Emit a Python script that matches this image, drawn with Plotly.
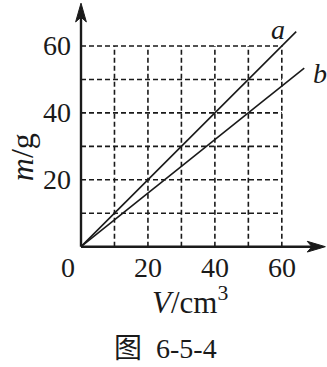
import plotly.graph_objects as go

# ---- data ----
grid_v = [10, 20, 30, 40, 50, 60]
grid_m = [10, 20, 30, 40, 50, 60]
tick_v = [20, 40, 60]
tick_m = [20, 40, 60]
line_a_v = [0, 64.3]
line_a_m = [0, 64.3]
line_b_v = [0, 66.7]
line_b_m = [0, 53.36]

SERIF = '"Liberation Serif", "Times New Roman", serif'
INK = "#1a1a1a"

fig = go.Figure()

# dashed grid (limited to the 0..60 square)
gx, gy = [], []
for v in grid_v:
    gx += [v, v, None]
    gy += [0, max(grid_m), None]
for m in grid_m:
    gx += [0, max(grid_v), None]
    gy += [m, m, None]
fig.add_trace(go.Scatter(x=gx, y=gy, mode="lines",
                         line=dict(color=INK, width=1.6, dash="5px,3px"),
                         hoverinfo="skip", showlegend=False))

# lines a and b
fig.add_trace(go.Scatter(x=line_a_v, y=line_a_m, mode="lines",
                         line=dict(color=INK, width=1.6), showlegend=False))
fig.add_trace(go.Scatter(x=line_b_v, y=line_b_m, mode="lines",
                         line=dict(color=INK, width=1.6), showlegend=False))

# axes + filled arrowheads (decoration, data coordinates)
X_TIP, X_BASE, X_NOTCH, HW = 73.0, 67.6, 69.0, 1.6
Y_TIP, Y_BASE, Y_NOTCH = 72.8, 67.2, 68.6
shapes = [
    dict(type="line", x0=0, y0=0, x1=X_NOTCH, y1=0, xref="x", yref="y",
         line=dict(color=INK, width=2.4)),
    dict(type="line", x0=0, y0=0, x1=0, y1=Y_NOTCH, xref="x", yref="y",
         line=dict(color=INK, width=2.4)),
    dict(type="path", xref="x", yref="y", fillcolor=INK, line=dict(color=INK, width=1),
         path=f"M{X_TIP},0 L{X_BASE},{HW} L{X_NOTCH},0 L{X_BASE},{-HW} Z"),
    dict(type="path", xref="x", yref="y", fillcolor=INK, line=dict(color=INK, width=1),
         path=f"M0,{Y_TIP} L{HW},{Y_BASE} L0,{Y_NOTCH} L{-HW},{Y_BASE} Z"),
]

ann = []
tickfont = dict(family=SERIF, size=28, color=INK)
for m in tick_m:
    ann.append(dict(x=-2.4, y=m, text=str(m), xanchor="right", yanchor="middle",
                    showarrow=False, font=tickfont))
for v in tick_v:
    ann.append(dict(x=v, y=-6.1, text=str(v), xanchor="center", yanchor="middle",
                    showarrow=False, font=tickfont))
ann.append(dict(x=-3.9, y=-6.1, text="0", xanchor="center", yanchor="middle",
                showarrow=False, font=tickfont))

titlefont = dict(family=SERIF, size=31, color=INK)
ann.append(dict(x=32.6, y=-16.2, text="<i>V</i>/cm<sup>3</sup>", xanchor="center",
                yanchor="middle", showarrow=False, font=titlefont))
ann.append(dict(x=-17.6, y=26.8, text="<i>m</i>/g", textangle=-90, xanchor="center",
                yanchor="middle", showarrow=False,
                font=dict(family=SERIF, size=32, color=INK)))

labfont = dict(family=SERIF, size=28, color=INK)
ann.append(dict(x=58.9, y=64.8, text="<i>a</i>", xanchor="center", yanchor="middle",
                showarrow=False, font=labfont))
ann.append(dict(x=71.3, y=51.9, text="<i>b</i>", xanchor="center", yanchor="middle",
                showarrow=False, font=labfont))

ann.append(dict(x=25.1, y=-30.3, text="图\u00a0 6-5-4", xanchor="center", yanchor="middle",
                showarrow=False,
                font=dict(family='"Liberation Serif", "Noto Sans CJK SC", serif', size=28, color=INK)))

fig.update_layout(
    width=327, height=367,
    margin=dict(l=0, r=0, t=0, b=0),
    paper_bgcolor="white", plot_bgcolor="white",
    xaxis=dict(range=[-24.2, 73.5], visible=False, fixedrange=True),
    yaxis=dict(range=[-35.97, 73.75], visible=False, fixedrange=True),
    annotations=ann,
    shapes=shapes,
    showlegend=False,
)

fig.write_html("out.html")
